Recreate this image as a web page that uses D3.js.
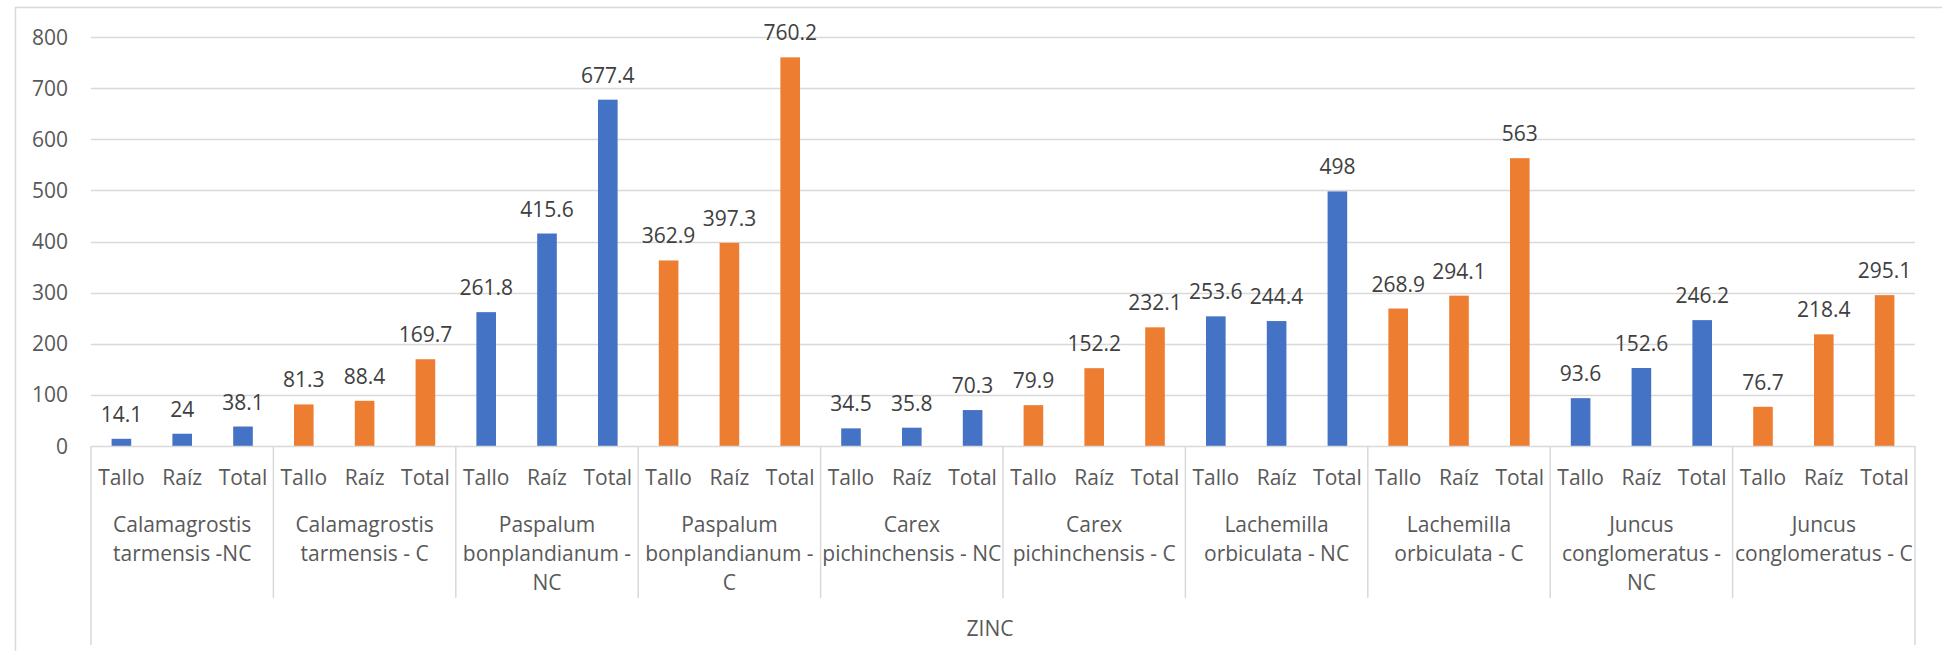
<!DOCTYPE html>
<html lang="es">
<head>
<meta charset="utf-8">
<script src="https://cdn.jsdelivr.net/npm/d3@7"></script>
<style>
	body { margin: 0; background: #fff; }
	svg text { font-family: "Open Sans", "Noto Sans", sans-serif; }
</style>
</head>
<body>
<svg id="chart" width="1942" height="651"></svg>
<script>
	// groups (species + treatment), wrapped the way the original axis shows them
	const groups = [
		"Calamagrostis\ntarmensis -NC",
		"Calamagrostis\ntarmensis - C",
		"Paspalum\nbonplandianum -\nNC",
		"Paspalum\nbonplandianum -\nC",
		"Carex\npichinchensis - NC",
		"Carex\npichinchensis - C",
		"Lachemilla\norbiculata - NC",
		"Lachemilla\norbiculata - C",
		"Juncus\nconglomeratus -\nNC",
		"Juncus\nconglomeratus - C"
	];
	const parts = ["Tallo", "Raíz", "Total"];
	const treatment = ["NC", "C", "NC", "C", "NC", "C", "NC", "C", "NC", "C"];

	const tallo = [14.1, 81.3, 261.8, 362.9, 34.5, 79.9, 253.6, 268.9, 93.6, 76.7];
	const raiz  = [24, 88.4, 415.6, 397.3, 35.8, 152.2, 244.4, 294.1, 152.6, 218.4];
	const total = [38.1, 169.7, 677.4, 760.2, 70.3, 232.1, 498, 563, 246.2, 295.1];

	const yTicks = [0, 100, 200, 300, 400, 500, 600, 700, 800];
	const outerLabel = "ZINC";

	const colors = { NC: "#4472C4", C: "#ED7D31" };
	const fs = 21;

	const rows = [];
	groups.forEach((g, i) => {
		[tallo[i], raiz[i], total[i]].forEach((v, j) => {
			rows.push({ key: i + "-" + j, group: i, part: parts[j], value: v, t: treatment[i] });
		});
	});

	const plotLeft = 91, plotRight = 1915, plotTop = 37, plotBase = 446;

	const svg = d3.select("#chart");

	// outer chart border (runs off the picture on the right and bottom)
	svg.append("rect")
		.attr("x", 15.5).attr("y", 7.5)
		.attr("width", 1960).attr("height", 700)
		.attr("fill", "none").attr("stroke", "#d9d9d9").attr("stroke-width", 1.5);

	const y = d3.scaleLinear().domain([0, 800]).range([plotBase, plotTop]);

	const xGroup = d3.scaleBand().domain(d3.range(groups.length)).range([plotLeft, plotRight]).padding(0);
	const x = d3.scaleBand().domain(rows.map(d => d.key)).range([plotLeft, plotRight]).padding(0);
	const barW = x.bandwidth() / 3.1;

	// gridlines
	svg.append("g")
		.selectAll("line")
		.data(yTicks.filter(t => t > 0))
		.join("line")
		.attr("x1", plotLeft).attr("x2", plotRight)
		.attr("y1", d => Math.round(y(d)) + 0.5).attr("y2", d => Math.round(y(d)) + 0.5)
		.attr("stroke", "#d9d9d9").attr("stroke-width", 1.5);

	// y labels
	svg.append("g")
		.selectAll("text")
		.data(yTicks)
		.join("text")
		.attr("x", 68)
		.attr("y", d => y(d))
		.attr("dy", "0.36em")
		.attr("text-anchor", "end")
		.attr("font-size", fs)
		.attr("fill", "#595959")
		.text(d => d);

	// bars
	svg.append("g")
		.selectAll("rect")
		.data(rows)
		.join("rect")
		.attr("x", d => x(d.key) + (x.bandwidth() - barW) / 2)
		.attr("y", d => y(d.value))
		.attr("width", barW)
		.attr("height", d => plotBase - y(d.value))
		.attr("fill", d => colors[d.t]);

	// data labels
	svg.append("g")
		.selectAll("text")
		.data(rows)
		.join("text")
		.attr("x", d => x(d.key) + x.bandwidth() / 2)
		.attr("y", d => y(d.value) - 17)
		.attr("text-anchor", "middle")
		.attr("font-size", fs)
		.attr("fill", "#404040")
		.text(d => d.value);

	// category axis
	const axis = svg.append("g").attr("stroke", "#d9d9d9").attr("stroke-width", 1.5);
	axis.append("line")
		.attr("x1", plotLeft).attr("x2", plotRight)
		.attr("y1", plotBase + 0.5).attr("y2", plotBase + 0.5);
	axis.selectAll(".sep")
		.data(d3.range(groups.length + 1))
		.join("line")
		.attr("x1", i => i === groups.length ? plotRight : xGroup(i))
		.attr("x2", i => i === groups.length ? plotRight : xGroup(i))
		.attr("y1", plotBase)
		.attr("y2", i => (i === 0 || i === groups.length) ? 645 : 598);

	svg.append("g")
		.selectAll("text")
		.data(rows)
		.join("text")
		.attr("x", d => x(d.key) + x.bandwidth() / 2)
		.attr("y", 485)
		.attr("text-anchor", "middle")
		.attr("font-size", fs)
		.attr("fill", "#595959")
		.text(d => d.part);

	const gl = svg.append("g")
		.selectAll("text")
		.data(groups)
		.join("text")
		.attr("x", (d, i) => xGroup(i) + xGroup.bandwidth() / 2)
		.attr("y", 532)
		.attr("text-anchor", "middle")
		.attr("font-size", fs)
		.attr("fill", "#595959");
	gl.selectAll("tspan")
		.data(d => d.split("\n"))
		.join("tspan")
		.attr("x", function () { return this.parentNode.getAttribute("x"); })
		.attr("dy", (d, i) => i === 0 ? 0 : 29)
		.text(d => d);

	svg.append("text")
		.attr("x", 990)
		.attr("y", 636)
		.attr("text-anchor", "middle")
		.attr("font-size", fs)
		.attr("fill", "#595959")
		.text(outerLabel);
</script>
</body>
</html>
